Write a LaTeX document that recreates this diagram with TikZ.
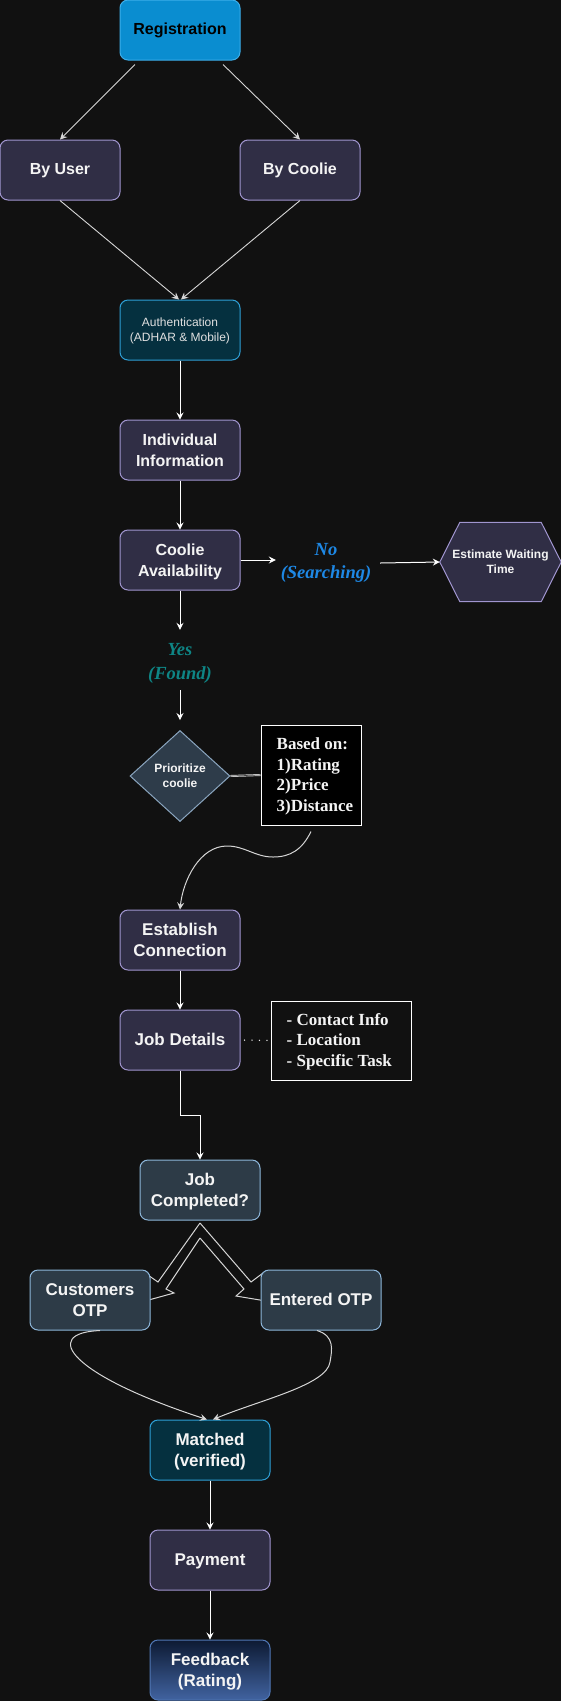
\documentclass[tikz,border=0pt]{standalone}
\usepackage{fontspec}
\setmainfont{Liberation Serif}
\setsansfont{Liberation Sans}
\usetikzlibrary{shapes.geometric,arrows.meta,calc}
\definecolor{bg}{HTML}{111111}
\definecolor{txt}{HTML}{F4F4F4}
\definecolor{regfill}{HTML}{0A8DD0}
\definecolor{regline}{HTML}{3CAEEA}
\definecolor{purfill}{HTML}{302E45}
\definecolor{purline}{HTML}{A095CF}
\definecolor{tealfill}{HTML}{05303F}
\definecolor{tealline}{HTML}{2E9FD6}
\definecolor{slatefill}{HTML}{2D3B47}
\definecolor{slateline}{HTML}{8DB6DA}
\definecolor{diafill}{HTML}{2E3C4A}
\definecolor{dialine}{HTML}{8AA5BF}
\definecolor{nocol}{HTML}{1E88E5}
\definecolor{yescol}{HTML}{0E8585}
\definecolor{fbtop}{HTML}{0D1A33}
\definecolor{fbbot}{HTML}{4163A0}
\definecolor{fbline}{HTML}{5077B5}
\definecolor{edgegray}{HTML}{D6D6D6}
\newcommand\bt[2][-2pt]{\raisebox{#1}[\height][\depth]{\begin{tabular}{@{}c@{}}#2\end{tabular}}}
\begin{document}
\begin{tikzpicture}[x=1pt,y=-1pt,
  box/.style={rectangle,rounded corners=8pt,minimum width=120pt,minimum height=60pt,
    inner sep=2pt,line width=1pt,text=txt,
    font=\sffamily\bfseries\fontsize{16}{20.5}\selectfont},
  big/.style={font=\sffamily\bfseries\fontsize{17}{21}\selectfont},
  purplebox/.style={box,fill=purfill,draw=purline},
  tealbox/.style={box,fill=tealfill,draw=tealline},
  slatebox/.style={box,fill=slatefill,draw=slateline},
  arr/.style={draw=white,line width=1pt,-{Stealth[length=7pt,width=7pt,inset=2.5pt]}},
  thinarr/.style={arr,draw=edgegray,line width=0.9pt},
  notebox/.style={rectangle,draw=white,line width=1pt,inner sep=0pt},
  notetext/.style={anchor=west,align=left,inner sep=0pt,text=txt,
    font=\rmfamily\bfseries\fontsize{17}{20.5}\selectfont},
  flex/.style={draw=edgegray,line width=1pt,line join=miter},
]
\useasboundingbox (0,0) rectangle (561,1701);
\fill[bg] (0,0) rectangle (561,1701);

% hollow block arrows (drawn first, their tips hide behind the boxes)
\draw[flex] (200,1223) -- (158,1282) -- (145,1273) -- (145,1301) -- (174,1293) -- (166,1289) -- (200,1238);
\draw[flex] (200,1223) -- (251,1282) -- (263,1273) -- (266,1301) -- (236,1296) -- (244,1289) -- (200,1238);

% nodes
\node[box,fill=regfill,draw=regline,text=black] (reg) at (180,30) {\bt[-0.8pt]{Registration\hspace{4pt}}};
\node[purplebox] (byuser) at (60,170) {\bt[-0.8pt]{By User}};
\node[purplebox] (bycoolie) at (300,170) {\bt[-0.8pt]{By Coolie}};
\node[tealbox,font=\sffamily\fontsize{12}{15}\selectfont,text=txt!92!black] (auth) at (180,330) {\bt[-1.3pt]{Authentication\\(ADHAR \& Mobile)}};
\node[purplebox] (indiv) at (180,450) {\bt{Individual\\Information}};
\node[purplebox] (ca) at (180,560) {\bt{Coolie\\Availability}};
\node[inner sep=0pt,minimum width=100pt,text=nocol,
  font=\rmfamily\bfseries\itshape\fontsize{18.5}{23}\selectfont] (no) at (326,560) {\bt[-2.5pt]{No\\(Searching)}};
\node[minimum width=121pt,minimum height=79pt,inner sep=0pt] (hex) at (500.5,562) {};
\draw[fill=purfill,draw=purline,line width=1pt]
  (hex.west) -- ([xshift=20pt]hex.north west) -- ([xshift=-20pt]hex.north east) -- (hex.east)
  -- ([xshift=-20pt]hex.south east) -- ([xshift=20pt]hex.south west) -- cycle;
\node[align=center,inner sep=0pt,text=txt,font=\sffamily\bfseries\fontsize{12}{15}\selectfont] (hextxt) at (hex.center) {Estimate Waiting\\Time};
\node[inner sep=0pt,minimum height=60pt,text=yescol,
  font=\rmfamily\bfseries\itshape\fontsize{18.5}{23.4}\selectfont] (yes) at (180,660) {\bt[-2.7pt]{Yes\\(Found)}};
\node[diamond,minimum width=100pt,minimum height=91pt,inner sep=0pt,fill=diafill,draw=dialine,
  line width=1pt,align=center,text=txt,font=\sffamily\bfseries\fontsize{12}{15}\selectfont] (dia) at (180,776) {Prioritize\\coolie};
\node[notebox,fill=black,minimum width=100pt,minimum height=100pt] (based) at (311,775) {};
\node[notetext] (basedtxt) at ([xshift=16pt,yshift=-1.5pt]based.west) {Based on:\\1)Rating\\2)Price\\3)Distance};
\node[purplebox,big] (est) at (180,940) {\bt{Establish\\Connection}};
\node[purplebox,big] (jd) at (180,1040) {\bt[-1pt]{Job Details}};
\node[notebox,fill=bg,minimum width=140pt,minimum height=79pt] (jdbox) at (341,1040.5) {};
\node[notetext] (jdtxt) at ([xshift=16pt,yshift=-1pt]jdbox.west) {- Contact Info\\- Location\\- Specific Task};
\node[slatebox,big] (jc) at (200,1190) {\bt{Job\\Completed?}};
\node[slatebox,big] (cotp) at (90,1300) {\bt{Customers\\OTP}};
\node[slatebox,big] (eotp) at (321,1300) {\bt[-1.5pt]{Entered OTP}};
\node[tealbox,big] (m) at (210,1450) {\bt{Matched\\(verified)}};
\node[purplebox,big] (pay) at (210,1560) {\bt[-1.5pt]{Payment}};
\node[box,big,top color=fbtop,bottom color=fbbot,draw=fbline] (fb) at (210,1670) {\bt{Feedback\\(Rating)}};

% connectors
\draw[thinarr] ([xshift=-45pt,yshift=-4pt]reg.south) -- (byuser.north);
\draw[thinarr] ([xshift=43pt,yshift=-4pt]reg.south) -- (bycoolie.north);
\draw[thinarr] (byuser.south) -- ([xshift=-1pt]auth.north);
\draw[thinarr] (bycoolie.south) -- ([xshift=1pt]auth.north);
\draw[arr] (auth.south) -- (indiv.north);
\draw[arr] (indiv.south) -- (ca.north);
\draw[arr] (ca.east) -- (no.west |- ca.east);
\draw[arr] ([xshift=4pt,yshift=-3pt]no.east) -- (hex.west);
\draw[arr] (ca.south) -- (yes.north);
\draw[arr] (yes.south) -- ([yshift=10pt]dia.north);
\draw[draw=edgegray,double=gray!45!bg,double distance=0.6pt,line width=0.7pt] (dia.east) -- (based.west);
\draw[arr,draw=edgegray] ([yshift=-6pt]based.south) .. controls (302,850) and (290,857) .. (273,857)
  .. controls (255,857) and (245,846) .. (227,846)
  .. controls (200,846) and (183,880) .. (est.north);
\draw[arr] (est.south) -- (jd.north);
\draw[draw=white!85!gray,line width=1.5pt,dash pattern=on 0pt off 7.5pt,line cap=round] ([xshift=4pt]jd.east) -- (jdbox.west);
\draw[arr] (jd.south) -- ++(0,45) -| (jc.north);
\draw[arr,draw=edgegray] ([xshift=10pt]cotp.south) .. controls (40,1333) and (70,1375) .. ([xshift=-3pt]m.north);
\draw[arr,draw=edgegray] ([xshift=-4pt]eotp.south) .. controls (335,1336) and (332,1350) .. (330,1362)
  .. controls (327,1385) and (260,1400) .. ([xshift=3pt]m.north);
\draw[arr] (m.south) -- (pay.north);
\draw[arr] (pay.south) -- (fb.north);
\end{tikzpicture}
\end{document}
